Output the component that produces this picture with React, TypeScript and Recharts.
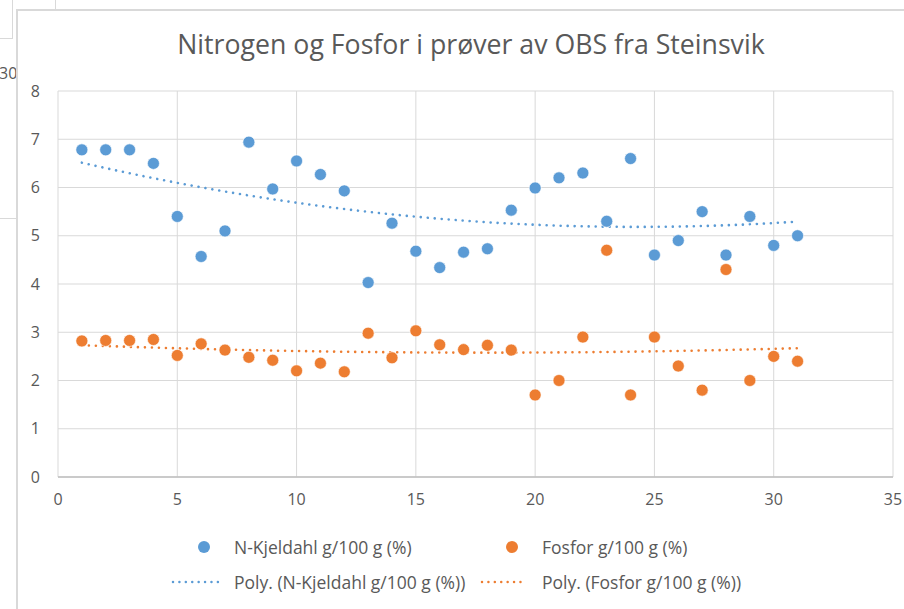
import React from "react";
import { ComposedChart, Scatter, Line, XAxis, YAxis, CartesianGrid } from "recharts";

const sampleIndex = [1,2,3,4,5,6,7,8,9,10,11,12,13,14,15,16,17,18,19,20,21,22,23,24,25,26,27,28,29,30,31];
const nKjeldahl = [6.78,6.78,6.78,6.5,5.4,4.57,5.1,6.94,5.97,6.55,6.27,5.93,4.03,5.26,4.68,4.34,4.66,4.73,5.53,5.99,6.2,6.3,5.3,6.6,4.6,4.9,5.5,4.6,5.4,4.8,5.0];
const fosfor = [2.82,2.83,2.83,2.85,2.52,2.76,2.63,2.48,2.42,2.2,2.36,2.18,2.98,2.47,3.03,2.74,2.64,2.73,2.63,1.7,2.0,2.9,4.7,1.7,2.9,2.3,1.8,4.3,2.0,2.5,2.4];
const xTicks = [0,5,10,15,20,25,30,35];
const yTicks = [0,1,2,3,4,5,6,7,8];

const seriesNames = {
  n: "N-Kjeldahl g/100 g (%)",
  p: "Fosfor g/100 g (%)",
  nPoly: "Poly. (N-Kjeldahl g/100 g (%))",
  pPoly: "Poly. (Fosfor g/100 g (%))",
};
const title = "Nitrogen og Fosfor i prøver av OBS fra Steinsvik";

const BLUE = "#5B9BD5";
const ORANGE = "#ED7D31";
const TEXT = "#595959";
const GRID = "#D9D9D9";
const FONT = "'Open Sans', sans-serif";

// Least-squares 2nd order polynomial trendline (as Excel "Poly." trendline)
function polyFit2(xs: number[], ys: number[]) {
  let s0 = 0, s1 = 0, s2 = 0, s3 = 0, s4 = 0, t0 = 0, t1 = 0, t2 = 0;
  for (let i = 0; i < xs.length; i++) {
    const x = xs[i], y = ys[i];
    s0 += 1; s1 += x; s2 += x * x; s3 += x * x * x; s4 += x * x * x * x;
    t0 += y; t1 += x * y; t2 += x * x * y;
  }
  const M = [[s0, s1, s2, t0], [s1, s2, s3, t1], [s2, s3, s4, t2]];
  for (let c = 0; c < 3; c++) {
    let p = c;
    for (let r = c + 1; r < 3; r++) if (Math.abs(M[r][c]) > Math.abs(M[p][c])) p = r;
    [M[c], M[p]] = [M[p], M[c]];
    for (let r = 0; r < 3; r++) {
      if (r === c) continue;
      const f = M[r][c] / M[c][c];
      for (let k = c; k < 4; k++) M[r][k] -= f * M[c][k];
    }
  }
  const a = M[0][3] / M[0][0], b = M[1][3] / M[1][1], c2 = M[2][3] / M[2][2];
  return (x: number) => a + b * x + c2 * x * x;
}

const nPts = sampleIndex.map((x, i) => ({ x, y: nKjeldahl[i] }));
const pPts = sampleIndex.map((x, i) => ({ x, y: fosfor[i] }));
const nFit = polyFit2(sampleIndex, nKjeldahl);
const pFit = polyFit2(sampleIndex, fosfor);
const trendX: number[] = [];
for (let x = sampleIndex[0]; x <= sampleIndex[sampleIndex.length - 1] + 1e-9; x += 0.25) trendX.push(x);
const nTrend = trendX.map((x) => ({ x, y: nFit(x) }));
const pTrend = trendX.map((x) => ({ x, y: pFit(x) }));

const Dot = ({ cx, cy, fill }: any) => (
  <circle cx={cx} cy={cy} r={6} fill={fill} stroke="#fff" strokeWidth={0.6} />
);

const legendText: React.CSSProperties = {
  position: "absolute",
  fontFamily: FONT,
  fontSize: 17.5,
  color: TEXT,
  whiteSpace: "nowrap",
  lineHeight: "22px",
};

const DottedSwatch = ({ color, left, width, top }: any) => (
  <svg style={{ position: "absolute", left, top }} width={width} height={6}>
    <line x1={2} y1={3} x2={width - 2} y2={3} stroke={color} strokeWidth={2.5} strokeDasharray="0.01 6.4" strokeLinecap="round" />
  </svg>
);

export default function App() {
  return (
    <div style={{ position: "absolute", left: 0, top: 0, width: 904, height: 609, overflow: "hidden", background: "#fff" }}>
      {/* background sheet elements */}
      <div style={{ position: "absolute", left: 0, top: 0, width: 12, height: 38, borderRight: `1px solid ${GRID}`, borderBottom: `1px solid ${GRID}` }} />
      <div style={{ position: "absolute", left: 55, top: 0, width: 1, height: 10, background: GRID }} />
      <div style={{ position: "absolute", left: 0, top: 218, width: 16, height: 1, background: GRID }} />
      <div style={{ position: "absolute", left: -1, top: 62, fontFamily: FONT, fontSize: 16, color: TEXT }}>30</div>
      {/* chart frame */}
      <div style={{ position: "absolute", left: 16, top: 9, width: 900, height: 620, background: "#fff", borderLeft: `2px solid ${GRID}`, borderTop: `2px solid ${GRID}` }} />
      <div style={{ position: "absolute", left: 0, top: 0 }}>
        <ComposedChart width={904} height={609} margin={{ top: 91, right: 11, bottom: 102, left: 0 }}>
          <CartesianGrid stroke={GRID} strokeWidth={1} horizontalValues={yTicks} verticalValues={xTicks} />
          <XAxis
            type="number"
            dataKey="x"
            domain={[0, 35]}
            ticks={xTicks}
            interval={0}
            height={30}
            tickSize={0}
            tickMargin={17}
            axisLine={{ stroke: "#BFBFBF", strokeWidth: 1.5 }}
            tick={{ fill: TEXT, fontSize: 16, fontFamily: FONT }}
            allowDataOverflow
          />
          <YAxis
            type="number"
            dataKey="y"
            domain={[0, 8]}
            ticks={yTicks}
            interval={0}
            width={58}
            tickSize={0}
            tickMargin={18}
            axisLine={false}
            tick={{ fill: TEXT, fontSize: 16, fontFamily: FONT }}
            allowDataOverflow
          />
          <Scatter name={seriesNames.n} data={nPts} fill={BLUE} shape={<Dot fill={BLUE} />} isAnimationActive={false} />
          <Scatter name={seriesNames.p} data={pPts} fill={ORANGE} shape={<Dot fill={ORANGE} />} isAnimationActive={false} />
          <Line name={seriesNames.nPoly} data={nTrend} dataKey="y" type="monotone" stroke={BLUE} strokeWidth={2.6} strokeDasharray="0.01 7" strokeLinecap="round" dot={false} activeDot={false} isAnimationActive={false} />
          <Line name={seriesNames.pPoly} data={pTrend} dataKey="y" type="monotone" stroke={ORANGE} strokeWidth={2.6} strokeDasharray="0.01 7" strokeLinecap="round" dot={false} activeDot={false} isAnimationActive={false} />
        </ComposedChart>
      </div>
      {/* title */}
      <div style={{ position: "absolute", left: 16, width: 910, top: 26, textAlign: "center", fontFamily: FONT, fontSize: 26.7, color: TEXT, whiteSpace: "nowrap", lineHeight: "36px" }}>
        {title}
      </div>
      {/* legend */}
      <svg style={{ position: "absolute", left: 197, top: 540 }} width={14} height={14}><circle cx={7} cy={7} r={6} fill={BLUE} /></svg>
      <div style={{ ...legendText, left: 234, top: 536 }}>{seriesNames.n}</div>
      <svg style={{ position: "absolute", left: 505, top: 540 }} width={14} height={14}><circle cx={7} cy={7} r={6} fill={ORANGE} /></svg>
      <div style={{ ...legendText, left: 542, top: 536 }}>{seriesNames.p}</div>
      <DottedSwatch color={BLUE} left={171} width={52} top={579} />
      <div style={{ ...legendText, left: 234, top: 571 }}>{seriesNames.nPoly}</div>
      <DottedSwatch color={ORANGE} left={480} width={48} top={579} />
      <div style={{ ...legendText, left: 542, top: 571 }}>{seriesNames.pPoly}</div>
    </div>
  );
}
